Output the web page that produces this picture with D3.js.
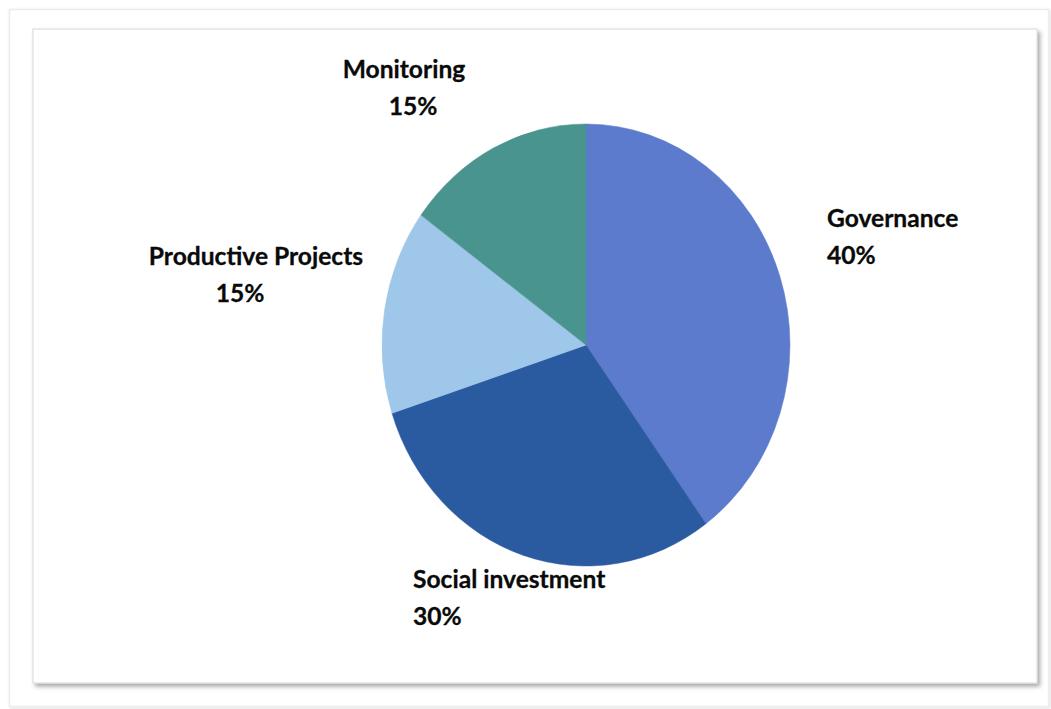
<!DOCTYPE html>
<html>
<head>
<meta charset="utf-8">
<script src="https://cdn.jsdelivr.net/npm/d3@7/dist/d3.min.js"></script>
<style>
  html, body { margin: 0; padding: 0; background: #ffffff; }
  svg { display: block; }
</style>
</head>
<body>
<svg id="chart" width="1051" height="709"></svg>
<script>
// ---- data ----
const categories = ["Governance", "Social investment", "Productive Projects", "Monitoring"];
const values = [40, 30, 15, 15];
const valueLabels = ["40%", "30%", "15%", "15%"];
const colors = ["#5c7bcd", "#2a5aa0", "#9fc7e9", "#4a948f"];

// ---- layout ----
const W = 1051, H = 709;
const cx = 586, cy = 345, rx = 204, ry = 221;
// label anchor points (first baseline y) per category
const labelPos = {
  "Governance": { x: 827, y: 227 },
  "Social investment": { x: 413, y: 588 },
  "Productive Projects": { x: 256, y: 265, x2: 240 },
  "Monitoring": { x: 404, y: 78, x2: 413 }
};
const lineGap = 37;
const fontSize = 24.6;

const svg = d3.select("#chart");

const defs = svg.append("defs");
const f = defs.append("filter").attr("id", "shadow")
  .attr("x", "-5%").attr("y", "-5%").attr("width", "110%").attr("height", "110%");
f.append("feDropShadow").attr("dx", 2.5).attr("dy", 3).attr("stdDeviation", 2.2)
  .attr("flood-color", "#000").attr("flood-opacity", 0.35);
const f2 = defs.append("filter").attr("id", "shadow2")
  .attr("x", "-5%").attr("y", "-5%").attr("width", "110%").attr("height", "110%");
f2.append("feDropShadow").attr("dx", 1).attr("dy", 1).attr("stdDeviation", 1.5)
  .attr("flood-color", "#000").attr("flood-opacity", 0.15);

// outer faint frame
svg.append("rect")
  .attr("x", 9.5).attr("y", 9.5).attr("width", W - 12).attr("height", H - 12)
  .attr("fill", "#ffffff").attr("stroke", "#ececec").attr("stroke-width", 1.5)
  .attr("filter", "url(#shadow2)");

// inner chart box
svg.append("rect")
  .attr("x", 33).attr("y", 29).attr("width", 1037 - 33).attr("height", 683 - 29)
  .attr("fill", "#ffffff").attr("stroke", "#d8d8d8").attr("stroke-width", 1)
  .attr("filter", "url(#shadow)");

// pie
const pie = d3.pie().sort(null).value(d => d.value);
const arcs = pie(categories.map((c, i) => ({ name: c, value: values[i], color: colors[i], label: valueLabels[i] })));
const arc = d3.arc().innerRadius(0).outerRadius(rx);

const g = svg.append("g")
  .attr("transform", `translate(${cx},${cy}) scale(1,${ry / rx})`);
g.selectAll("path.slice")
  .data(arcs)
  .enter().append("path")
  .attr("class", "slice")
  .attr("d", arc)
  .attr("fill", d => d.data.color)
  .attr("stroke", d => d.data.color)
  .attr("stroke-width", 0.5);

// labels
const font = "Lato, 'Open Sans', sans-serif";
arcs.forEach(d => {
  const p = labelPos[d.data.name];
  const centered = p.x2 !== undefined;
  svg.append("text")
    .attr("x", p.x).attr("y", p.y)
    .attr("text-anchor", centered ? "middle" : "start")
    .attr("font-family", font).attr("font-weight", 700).attr("font-size", fontSize)
    .attr("fill", "#0a0a0a").attr("stroke", "#0a0a0a").attr("stroke-width", 0.3)
    .text(d.data.name);
  svg.append("text")
    .attr("x", centered ? p.x2 : p.x).attr("y", p.y + lineGap)
    .attr("text-anchor", centered ? "middle" : "start")
    .attr("font-family", font).attr("font-weight", 700).attr("font-size", fontSize)
    .attr("fill", "#0a0a0a").attr("stroke", "#0a0a0a").attr("stroke-width", 0.3)
    .text(d.data.label);
});
</script>
</body>
</html>
